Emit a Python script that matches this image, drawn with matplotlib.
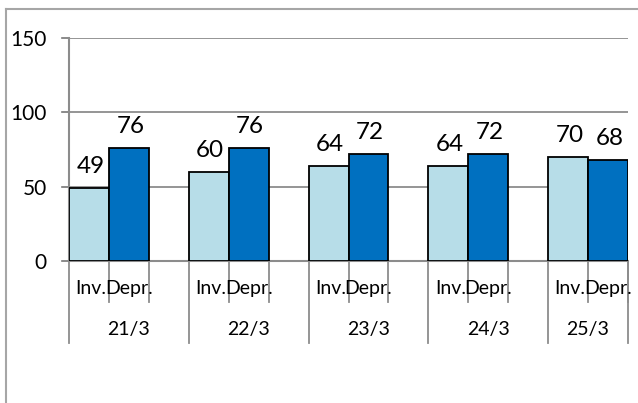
import matplotlib
matplotlib.use("Agg")
import matplotlib.pyplot as plt
from matplotlib.lines import Line2D

plt.rcParams['font.family'] = ['Lato', 'DejaVu Sans']

# data
dates = ["21/3", "22/3", "23/3", "24/3", "25/3"]
series_names = ["Inv.", "Depr."]
inv_values = [49, 60, 64, 64, 70]
depr_values = [76, 76, 72, 72, 68]
y_ticks = [0, 50, 100, 150]

light = "#B7DDE8"
dark = "#0070C0"
gray = "#8C8C8C"

W, H = 638, 403
fig = plt.figure(figsize=(W / 100, H / 100), dpi=100)
# plot area in pixels: x 69..628, y 38..261
ax = fig.add_axes([69 / W, 1 - 261 / H, (628 - 69) / W, (261 - 38) / H])

# outer frame (only top and left show)
fig.add_artist(Line2D([6 / W, 6 / W], [0, 1 - 9 / H], color="#A6A6A6", lw=1.5))
fig.add_artist(Line2D([6 / W, 1], [1 - 9 / H, 1 - 9 / H], color="#A6A6A6", lw=1.5))

# each date gets 3 slots: Inv, Depr, blank (blank dropped after the last one)
n = len(dates)
inv_x = [3 * g for g in range(n)]
depr_x = [3 * g + 1 for g in range(n)]

ax.bar(inv_x, inv_values, width=1.0, color=light, edgecolor="black", linewidth=1.3, zorder=3)
ax.bar(depr_x, depr_values, width=1.0, color=dark, edgecolor="black", linewidth=1.3, zorder=3)

for xs, vals in [(inv_x, inv_values), (depr_x, depr_values)]:
    for x, v in zip(xs, vals):
        ax.annotate(str(v), (x, v), xytext=(1, 8), textcoords="offset points",
                    ha="center", va="bottom", fontsize=17.5, color="black")

ax.set_xlim(-0.5, 3 * n - 1.5)
ax.set_ylim(0, 150)
ax.set_yticks(y_ticks)
ax.tick_params(axis="y", length=5, width=1.3, color=gray, pad=11, labelsize=15)
ax.set_xticks([])
ax.grid(axis="y", color=gray, linewidth=1.3, zorder=0)
for s in ["top", "right"]:
    ax.spines[s].set_visible(False)
for s in ["left", "bottom"]:
    ax.spines[s].set_color(gray)
    ax.spines[s].set_linewidth(1.5)
# gridlines also run through tick length on the left
for t in y_ticks:
    ax.plot([-0.5 - 0.175, -0.5], [t, t], color=gray, lw=1.3, clip_on=False)

trans = ax.get_xaxis_transform()
inner_end = -0.184
outer_end = -0.368
label_y = -0.125
group_y = -0.309

for g in range(n):
    # inner slot ticks
    for b in [3 * g + 0.5, 3 * g + 1.5]:
        ax.plot([b, b], [0, inner_end], color=gray, lw=1.3, transform=trans, clip_on=False)
    ax.text(inv_x[g] + 0.05, label_y, series_names[0], transform=trans, ha="center", va="center", fontsize=14)
    ax.text(depr_x[g], label_y, series_names[1], transform=trans, ha="center", va="center", fontsize=14)
    ax.text((3 * g - 0.5 + min(3 * g + 2.5, 3 * n - 1.5)) / 2, group_y, dates[g],
            transform=trans, ha="center", va="center", fontsize=14)

# group separators
for b in [3 * g - 0.5 for g in range(n)] + [3 * n - 1.5]:
    ax.plot([b, b], [0, outer_end], color=gray, lw=1.3, transform=trans, clip_on=False)

fig.savefig("out.png", dpi=100)
